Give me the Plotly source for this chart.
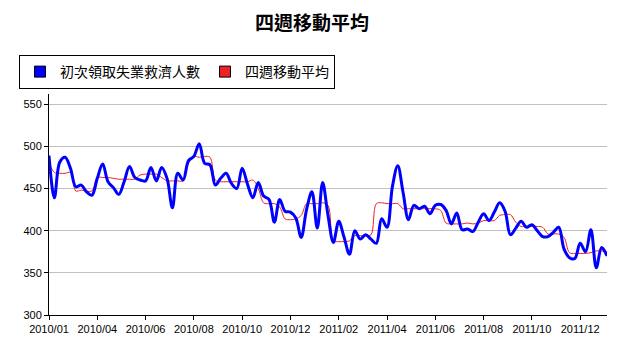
import plotly.graph_objects as go

claims = [489, 439, 481, 487, 474, 452, 454, 446, 442, 462,
          479, 458, 451, 443, 458, 476, 463, 460, 459, 475,
          459, 475, 462, 427, 468, 460, 483, 488, 503, 480,
          478, 454, 462, 468, 456, 450, 474, 455, 439, 457,
          441, 437, 410, 437, 423, 422, 415, 392, 425, 446,
          403, 457, 418, 386, 411, 392, 372, 400, 390, 395,
          390, 385, 414, 404, 452, 477, 445, 413, 430, 426,
          429, 420, 430, 431, 424, 408, 421, 401, 402, 399,
          410, 420, 412, 422, 433, 423, 395, 403, 411, 404,
          407, 400, 393, 393, 398, 404, 378, 368, 367, 385,
          375, 401, 356, 380, 370]

avg4 = [481, 469, 468, 468, 469, 447, 448, 447, 447, 463,
        463, 463, 462, 461, 461, 461, 461, 466, 467, 467,
        467, 463, 459, 459, 459, 459, 480, 488, 487, 488,
        487, 460, 458, 458, 458, 458, 458, 458, 460, 450,
        433, 432, 432, 428, 414, 413, 414, 418, 432, 432,
        432, 433, 430, 388, 387, 387, 388, 394, 394, 394,
        395, 432, 433, 432, 432, 432, 426, 426, 426, 426,
        426, 426, 426, 424, 409, 408, 408, 408, 409, 408,
        409, 412, 412, 412, 418, 419, 419, 410, 405, 405,
        405, 405, 404, 396, 396, 396, 392, 374, 373, 373,
        373, 374, 376, 376, 375]

tick_pos = [0, 9, 18, 27, 36, 45, 54, 63, 72, 81, 90, 99]
tick_text = ["2010/01", "2010/04", "2010/06", "2010/08", "2010/10", "2010/12",
             "2011/02", "2011/04", "2011/06", "2011/08", "2011/10", "2011/12"]

name_claims = "初次領取失業救濟人數"
name_avg = "四週移動平均"

idx = list(range(len(claims)))
cjk = "Noto Sans CJK TC, Noto Sans CJK SC, sans-serif"
latin = "Liberation Sans, Arial, sans-serif"

fig = go.Figure()
fig.add_trace(go.Scatter(x=idx, y=avg4, mode="lines", line=dict(color="#ee2222", width=1, shape="spline"),
                         showlegend=False, hoverinfo="skip"))
fig.add_trace(go.Scatter(x=idx, y=claims, mode="lines", line=dict(color="#0000ff", width=3, shape="spline"),
                         showlegend=False))
fig.add_trace(go.Scatter(x=[None], y=[None], mode="markers", name=name_claims,
                         marker=dict(symbol="square", size=11, color="#0000ff", line=dict(color="black", width=1))))
fig.add_trace(go.Scatter(x=[None], y=[None], mode="markers", name=name_avg,
                         marker=dict(symbol="square", size=11, color="#ee2222", line=dict(color="black", width=1))))

fig.update_layout(
    width=624, height=352,
    margin=dict(l=49, r=17, t=94, b=37, autoexpand=False),
    paper_bgcolor="white", plot_bgcolor="white",
    title=dict(text="<b>" + name_avg + "</b>", x=312 / 624, xanchor="center", y=1 - 23 / 352, yanchor="middle",
               font=dict(family=cjk, size=19, color="black")),
    legend=dict(orientation="h", xref="container", yref="container", x=19 / 624, y=1 - 55 / 352,
                xanchor="left", yanchor="top", bordercolor="black", borderwidth=1, bgcolor="white",
                font=dict(family=cjk, size=14, color="black"), itemwidth=30, tracegroupgap=0),
    xaxis=dict(range=[0, 104], tickmode="array", tickvals=tick_pos, ticktext=tick_text,
               showgrid=False, zeroline=False, showline=True, linecolor="black", linewidth=1,
               ticks="outside", ticklen=4, tickcolor="black", tickangle=0,
               tickfont=dict(family=latin, size=11, color="black")),
    yaxis=dict(range=[300, 562], tickmode="array", tickvals=[300, 350, 400, 450, 500, 550],
               showgrid=True, gridcolor="#c0c0c0", gridwidth=1, zeroline=False,
               showline=True, linecolor="black", linewidth=1,
               ticks="outside", ticklen=4, tickcolor="black",
               tickfont=dict(family=latin, size=11, color="black")),
)

fig.write_html("out.html")
